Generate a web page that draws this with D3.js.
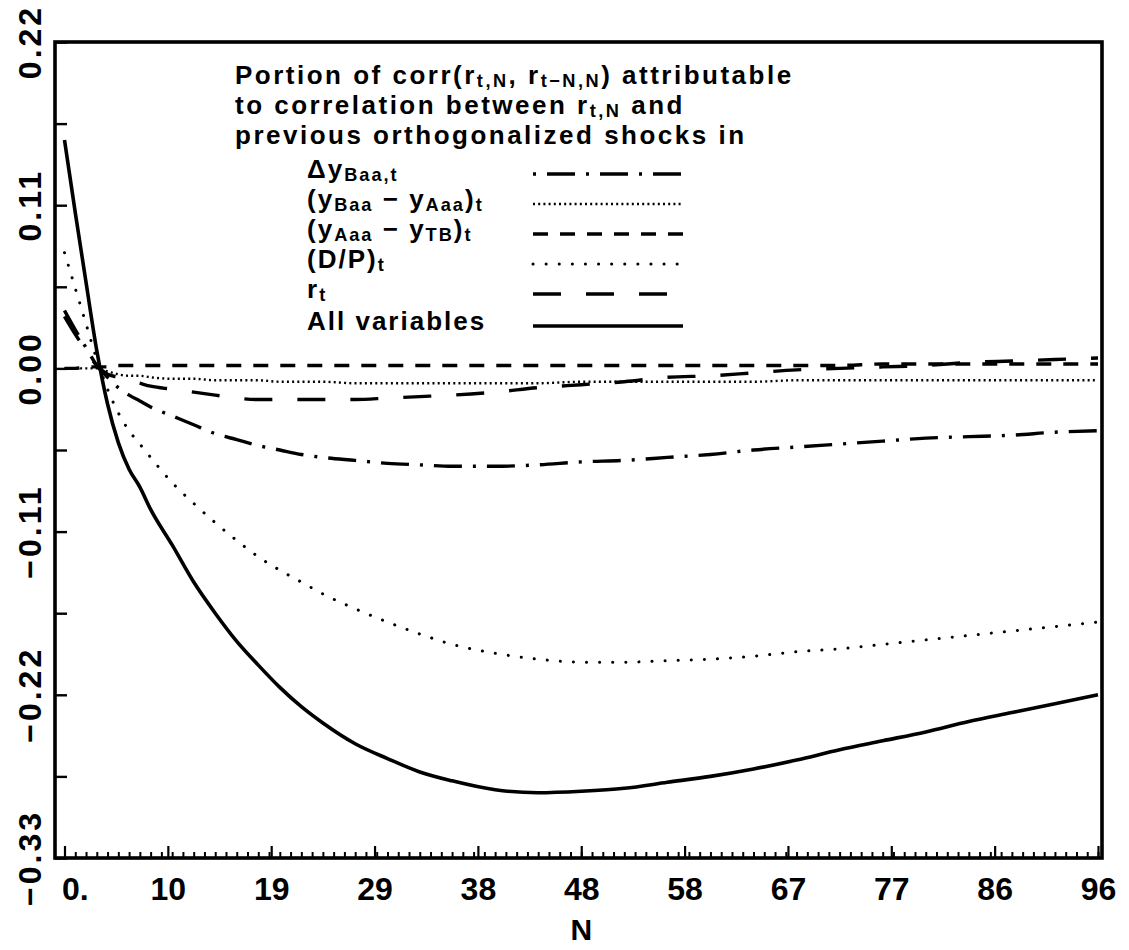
<!DOCTYPE html>
<html>
<head>
<meta charset="utf-8">
<script src="https://cdn.jsdelivr.net/npm/d3@7"></script>
<style>
  html, body { margin: 0; padding: 0; background: #fff; }
  svg { display: block; }
</style>
</head>
<body>
<svg id="chart" width="1129" height="950"></svg>
<script>
// ---------------- data ----------------
const horizonN = [0,1,2,3,4,5,6,7,8,10,12,14,16,18,20,22,24,27,30,33,36,40,44,48,52,56,60,64,68,72,76,80,84,88,92,96];

const allVariables = [0.154,0.105,0.058,0.012,-0.024,-0.050,-0.068,-0.080,-0.095,-0.119,-0.144,-0.165,-0.184,-0.200,-0.215,-0.228,-0.239,-0.253,-0.263,-0.272,-0.278,-0.284,-0.286,-0.285,-0.283,-0.279,-0.275,-0.270,-0.264,-0.257,-0.251,-0.245,-0.238,-0.232,-0.226,-0.220];
const dividendPrice = [0.078,0.054,0.030,0.006,-0.014,-0.030,-0.042,-0.051,-0.060,-0.077,-0.091,-0.104,-0.116,-0.127,-0.136,-0.144,-0.152,-0.162,-0.171,-0.179,-0.186,-0.192,-0.196,-0.198,-0.198,-0.197,-0.196,-0.194,-0.191,-0.189,-0.186,-0.183,-0.180,-0.177,-0.174,-0.171];
const deltaYBaa = [0.039,0.026,0.014,0.002,-0.006,-0.013,-0.018,-0.022,-0.026,-0.032,-0.038,-0.044,-0.048,-0.052,-0.055,-0.058,-0.060,-0.062,-0.064,-0.065,-0.066,-0.066,-0.065,-0.063,-0.062,-0.060,-0.058,-0.055,-0.053,-0.051,-0.049,-0.047,-0.046,-0.045,-0.043,-0.042];
const baaMinusAaa = [0.000,0.000,0.000,0.000,-0.002,-0.004,-0.005,-0.005,-0.006,-0.007,-0.007,-0.008,-0.008,-0.008,-0.009,-0.009,-0.009,-0.010,-0.010,-0.010,-0.010,-0.010,-0.010,-0.009,-0.009,-0.009,-0.009,-0.009,-0.008,-0.008,-0.008,-0.008,-0.008,-0.008,-0.008,-0.008];
const aaaMinusTB = [0.000,0.000,0.001,0.001,0.001,0.002,0.002,0.002,0.002,0.002,0.002,0.002,0.002,0.002,0.002,0.002,0.002,0.002,0.002,0.002,0.002,0.002,0.002,0.002,0.002,0.002,0.002,0.002,0.002,0.002,0.003,0.003,0.003,0.003,0.003,0.003];
const shortRate = [0.035,0.023,0.012,0.002,-0.004,-0.006,-0.008,-0.010,-0.012,-0.014,-0.016,-0.018,-0.020,-0.021,-0.021,-0.021,-0.021,-0.021,-0.020,-0.019,-0.018,-0.016,-0.013,-0.011,-0.009,-0.006,-0.005,-0.003,-0.001,0.000,0.001,0.002,0.004,0.005,0.006,0.007];

const xMajorTicks = [0,9.6,19.2,28.8,38.4,48,57.6,67.2,76.8,86.4,96];
const xTickLabels = ["0.","10","19","29","38","48","58","67","77","86","96"];
const yMajorTicks = [0.22,0.11,0,-0.11,-0.22,-0.33];
const yTickLabels = ["0.22","0.11","0.00","\u22120.11","\u22120.22","\u22120.33"];
const yMinorTicks = [0.22,0.165,0.11,0.055,0,-0.055,-0.11,-0.165,-0.22,-0.275,-0.33];

const titleLines = [
  [["Portion of corr(r",0],["t,N",1],[", r",0],["t\u2212N,N",1],[") attributable",0]],
  [["to correlation between r",0],["t,N",1],[" and",0]],
  [["previous orthogonalized shocks in",0]]
];

const seriesKeys = ["dy","baa","aaa","dp","r","all"];
const seriesLabels = {
  dy:  [["\u0394y",0],["Baa,t",1]],
  baa: [["(y",0],["Baa",1],[" \u2212 y",0],["Aaa",1],[")",0],["t",1]],
  aaa: [["(y",0],["Aaa",1],[" \u2212 y",0],["TB",1],[")",0],["t",1]],
  dp:  [["(D/P)",0],["t",1]],
  r:   [["r",0],["t",1]],
  all: [["All variables",0]]
};
const seriesValues = {dy: deltaYBaa, baa: baaMinusAaa, aaa: aaaMinusTB, dp: dividendPrice, r: shortRate, all: allVariables};

// ---------------- styles ----------------
const lineStyle = {
  dy:  {w: 3.4, dash: "28 11 3 11", cap: "butt", legendOffset: 39},
  baa: {w: 2.4, dash: "2 3.2", cap: "butt", legendOffset: 0},
  aaa: {w: 3.4, dash: "15 12", cap: "butt", legendOffset: 0},
  dp:  {w: 3.0, dash: "0.1 13", cap: "round", legendOffset: 0},
  r:   {w: 3.4, dash: "28 25", cap: "butt", legendOffset: 0},
  all: {w: 3.6, dash: null, cap: "butt", legendOffset: 0}
};

// ---------------- layout ----------------
const frame = {left: 55, right: 1102, top: 42, bottom: 858};
const svg = d3.select("#chart");
svg.append("rect").attr("width",1129).attr("height",950).attr("fill","#fff");

const x = d3.scaleLinear().domain([0,96]).range([64.5,1098]);
const y = d3.scaleLinear().domain([-0.33,0.22]).range([frame.bottom, frame.top]);

const FONT = "'Liberation Sans', Arial, sans-serif";

svg.append("clipPath").attr("id","plotclip").append("rect")
  .attr("x",frame.left).attr("y",frame.top)
  .attr("width",frame.right-frame.left).attr("height",frame.bottom-frame.top);

// x axis ticks
const xMinor = svg.append("g").attr("transform",`translate(0,${frame.bottom})`)
  .call(d3.axisBottom(x).tickValues(d3.range(0,97,1)).tickSizeInner(-6).tickSizeOuter(0).tickFormat(""));
xMinor.select(".domain").remove();
xMinor.selectAll(".tick line").attr("stroke","#000").attr("stroke-width",2);

const xMajor = svg.append("g").attr("transform",`translate(0,${frame.bottom})`)
  .call(d3.axisBottom(x).tickValues(xMajorTicks).tickSizeInner(-12).tickSizeOuter(0).tickPadding(19)
    .tickFormat((d,i)=>xTickLabels[i]));
xMajor.select(".domain").remove();
xMajor.selectAll(".tick line").attr("stroke","#000").attr("stroke-width",2.2);
xMajor.selectAll(".tick text")
  .attr("font-family",FONT).attr("font-weight","bold").attr("font-size",32).attr("fill","#000")
  .attr("text-anchor",(d,i)=> i===0 ? "start" : "middle")
  .attr("dx",(d,i)=> i===0 ? -3 : 0);

// y axis ticks (pointing inward)
const yAx = svg.append("g").attr("transform",`translate(${frame.left},0)`)
  .call(d3.axisLeft(y).tickValues(yMinorTicks).tickSizeInner(-12).tickSizeOuter(0).tickFormat(""));
yAx.select(".domain").remove();
yAx.selectAll(".tick line").attr("stroke","#000").attr("stroke-width",2.4);

// y labels, rotated
svg.append("g").selectAll("text").data(yMajorTicks).join("text")
  .attr("transform",d=>`translate(41,${y(d)}) rotate(-90)`)
  .attr("text-anchor","middle")
  .attr("font-family",FONT).attr("font-weight","bold").attr("font-size",32).attr("letter-spacing",3)
  .attr("fill","#000")
  .text((d,i)=>yTickLabels[i]);

// x axis title
svg.append("text").attr("x",x(48)).attr("y",940).attr("text-anchor","middle")
  .attr("font-family",FONT).attr("font-weight","bold").attr("font-size",30).attr("fill","#000").text("N");

// curves
const line = d3.line().x(d=>x(d[0])).y(d=>y(d[1])).curve(d3.curveMonotoneX);
const curves = svg.append("g").attr("clip-path","url(#plotclip)");
seriesKeys.forEach(k=>{
  const st = lineStyle[k];
  const pts = horizonN.map((n,i)=>[n, seriesValues[k][i]]);
  const p = curves.append("path").datum(pts)
    .attr("d",line).attr("fill","none").attr("stroke","#000")
    .attr("stroke-width",st.w).attr("stroke-linecap",st.cap).attr("stroke-linejoin","round");
  if (st.dash) p.attr("stroke-dasharray",st.dash);
});

// frame
svg.append("rect").attr("x",frame.left).attr("y",frame.top)
  .attr("width",frame.right-frame.left).attr("height",frame.bottom-frame.top)
  .attr("fill","none").attr("stroke","#000").attr("stroke-width",3.6);

// rich text helper (subscripts)
function richText(g, parts, xPos, yPos, size, spacing){
  const t = g.append("text").attr("x",xPos).attr("y",yPos)
    .attr("font-family",FONT).attr("font-weight","bold").attr("font-size",size)
    .attr("letter-spacing",spacing).attr("fill","#000");
  let shifted = false;
  const shift = 3;
  parts.forEach(([s,sub])=>{
    const ts = t.append("tspan").text(s);
    if (sub) {
      ts.attr("font-size",size*0.7);
      if (!shifted) { ts.attr("dy",shift); shifted = true; }
    } else if (shifted) {
      ts.attr("dy",-shift); shifted = false;
    }
  });
  return t;
}

// legend title
const leg = svg.append("g");
const titleBase = [84,114,144];
titleLines.forEach((parts,i)=> richText(leg, parts, 235, titleBase[i], 26, 2.5));

// legend entries
const entryBase = [178,208,238,268,298,330];
const sampleX = [533,683];
seriesKeys.forEach((k,i)=>{
  richText(leg, seriesLabels[k], 307, entryBase[i], 26, 2);
  const st = lineStyle[k];
  const ly = entryBase[i]-4;
  const l = leg.append("line").attr("x1",sampleX[0]).attr("x2",sampleX[1])
    .attr("y1",ly).attr("y2",ly).attr("stroke","#000")
    .attr("stroke-width",st.w).attr("stroke-linecap",st.cap);
  if (st.dash) l.attr("stroke-dasharray",st.dash).attr("stroke-dashoffset",st.legendOffset);
});
</script>
</body>
</html>
